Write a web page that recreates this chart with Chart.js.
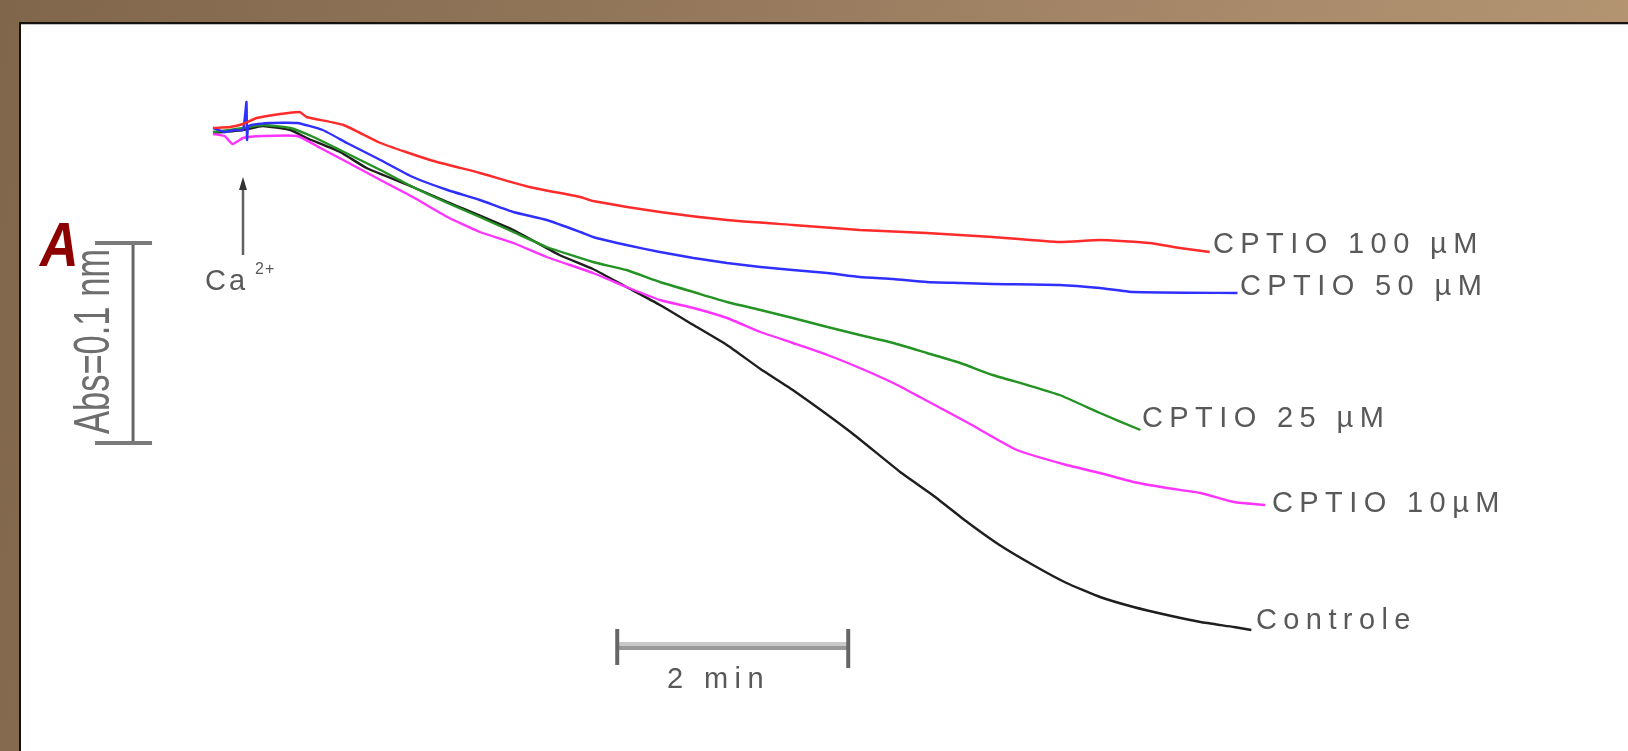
<!DOCTYPE html>
<html>
<head>
<meta charset="utf-8">
<script src="https://cdn.jsdelivr.net/npm/chart.js@4.4.1/dist/chart.umd.min.js"></script>
<style>
  html, body { margin: 0; padding: 0; width: 1628px; height: 751px; overflow: hidden; }
  body { background: linear-gradient(100deg, #80664b 0%, #92765a 35%, #a8896a 70%, #b79773 100%); position: relative; }
  #panel { position: absolute; left: 19px; top: 22px; width: 1607px; height: 727px; background: #fff;
           border-left: 2px solid #151210; border-top: 2px solid #151210; box-shadow: inset 0 1px 0 #c4c0bb; }
  #chart { position: absolute; left: 0; top: 0; }
</style>
</head>
<body>
<div id="panel"></div>
<canvas id="chart" width="1628" height="751"></canvas>
<script>
// Time in minutes after Ca2+ addition, absorbance change (relative to baseline)
const timeRed = [-0.26,-0.11,0.00,0.12,0.32,0.49,0.55,0.87,1.19,1.62,2.05,2.48,2.92,3.03,3.61,4.19,4.76,5.34,5.92,6.49,7.07,7.42,7.85,8.11,8.37];
const absRed  = [0.001,0.0015,0.003,0.006,0.008,0.009,0.0065,0.0025,-0.0065,-0.015,-0.0215,-0.0285,-0.0335,-0.0355,-0.041,-0.045,-0.0475,-0.050,-0.0515,-0.0535,-0.056,-0.055,-0.0565,-0.059,-0.061];

const timeBlue = [-0.26,-0.16,-0.07,0.00,0.03,0.035,0.05,0.23,0.47,0.69,0.90,1.19,1.47,1.77,2.05,2.34,2.63,2.92,3.03,3.32,3.61,3.90,4.19,4.48,4.76,5.06,5.34,5.63,5.92,6.21,6.49,7.07,7.42,7.71,8.61];
const absBlue  = [0.001,-0.001,0,0,0.014,-0.005,0.002,0.0035,0.0035,0,-0.0065,-0.015,-0.0235,-0.030,-0.035,-0.041,-0.045,-0.051,-0.0535,-0.0575,-0.061,-0.064,-0.0665,-0.0685,-0.070,-0.0715,-0.0735,-0.0745,-0.076,-0.0765,-0.077,-0.0775,-0.079,-0.081,-0.0815];

const timeGreen = [-0.26,-0.11,0.00,0.17,0.41,0.61,0.84,1.19,1.47,1.77,2.05,2.34,2.63,3.03,3.32,3.61,3.90,4.19,4.48,4.76,5.06,5.34,5.63,5.92,6.21,6.49,6.79,7.07,7.42,7.77];
const absGreen  = [-0.001,0,0.001,0.0025,0.001,-0.0035,-0.010,-0.020,-0.0285,-0.0365,-0.0435,-0.051,-0.0585,-0.066,-0.070,-0.076,-0.081,-0.086,-0.090,-0.094,-0.0985,-0.1025,-0.1065,-0.1115,-0.1165,-0.1225,-0.1275,-0.1325,-0.1415,-0.150];

const timeMagenta = [-0.26,-0.16,-0.09,0.00,0.17,0.47,0.67,0.90,1.19,1.47,1.77,2.05,2.34,2.63,3.03,3.32,3.61,3.90,4.19,4.48,4.76,5.06,5.34,5.63,5.86,6.28,6.70,7.13,7.42,7.71,8.00,8.29,8.58,8.85];
const absMagenta  = [-0.002,-0.003,-0.007,-0.004,-0.003,-0.003,-0.009,-0.016,-0.025,-0.0335,-0.0435,-0.051,-0.0565,-0.0635,-0.0715,-0.0785,-0.085,-0.089,-0.094,-0.101,-0.1065,-0.1125,-0.119,-0.1265,-0.1335,-0.1465,-0.160,-0.1675,-0.1715,-0.176,-0.179,-0.1815,-0.186,-0.1875];

const timeControl = [-0.26,0.00,0.17,0.41,0.55,0.84,1.07,1.47,1.77,2.34,2.74,3.03,3.32,3.61,3.90,4.19,4.48,4.76,5.26,5.69,5.97,6.27,6.55,6.84,7.13,7.42,7.71,8.00,8.29,8.58,8.73];
const absControl  = [-0.0015,0,0.002,0,-0.004,-0.011,-0.019,-0.0285,-0.036,-0.050,-0.0625,-0.0695,-0.0785,-0.0875,-0.0975,-0.1075,-0.1195,-0.130,-0.151,-0.171,-0.1825,-0.196,-0.2075,-0.2175,-0.2265,-0.2335,-0.2385,-0.2425,-0.246,-0.2485,-0.250];

const seriesNames = ["CPTIO 100 µM", "CPTIO 50 µM", "CPTIO 25 µM", "CPTIO 10µM", "Controle"];
const timeBarMin = [3.24, 5.24];       // 2 min scale bar
const absBarVal = [-0.0565, -0.1565];  // 0.1 absorbance scale bar
const absBarTime = -0.952;
const timeBarAbs = -0.258;
const arrowAbs = [-0.0235, -0.0625];

const zip = (t, a) => t.map((v, i) => ({ x: v, y: a[i] }));
const colors = ["#ff2a2a", "#2f2fff", "#249324", "#ff33ff", "#1e1e1e"];
const dataSets = [zip(timeRed, absRed), zip(timeBlue, absBlue), zip(timeGreen, absGreen), zip(timeMagenta, absMagenta), zip(timeControl, absControl)];

// label placement (pixels)
const labelPos = [[1213, 245], [1240, 287], [1142, 419], [1272, 504], [1256, 621]];

const overlay = {
  id: 'overlay',
  afterDatasetsDraw(chart) {
    const ctx = chart.ctx, xs = chart.scales.x, ys = chart.scales.y;
    ctx.save();
    ctx.fillStyle = '#595959';
    ctx.font = '29px "Liberation Sans", Arial, sans-serif';
    ctx.textBaseline = 'middle';
    ctx.textAlign = 'left';
    ctx.letterSpacing = '6.4px';
    seriesNames.forEach((n, i) => ctx.fillText(n, labelPos[i][0], labelPos[i][1]));
    // 2 min bar
    const bx0 = xs.getPixelForValue(timeBarMin[0]), bx1 = xs.getPixelForValue(timeBarMin[1]);
    const by = ys.getPixelForValue(timeBarAbs);
    ctx.strokeStyle = '#c9c9c9'; ctx.lineWidth = 4;
    ctx.beginPath(); ctx.moveTo(bx0, by - 2); ctx.lineTo(bx1, by - 2); ctx.stroke();
    ctx.strokeStyle = '#999'; ctx.lineWidth = 4;
    ctx.beginPath(); ctx.moveTo(bx0, by + 2); ctx.lineTo(bx1, by + 2); ctx.stroke();
    ctx.strokeStyle = '#666'; ctx.lineWidth = 4;
    ctx.beginPath(); ctx.moveTo(bx0, by - 17); ctx.lineTo(bx0, by + 19); ctx.stroke();
    ctx.beginPath(); ctx.moveTo(bx1, by - 17); ctx.lineTo(bx1, by + 22); ctx.stroke();
    ctx.fillStyle = '#595959';
    ctx.fillText('2 min', 667, by + 34);
    // Abs bar
    const ax = xs.getPixelForValue(absBarTime);
    const ay0 = ys.getPixelForValue(absBarVal[0]), ay1 = ys.getPixelForValue(absBarVal[1]);
    ctx.strokeStyle = '#666'; ctx.lineWidth = 3;
    ctx.beginPath(); ctx.moveTo(ax, ay0); ctx.lineTo(ax, ay1); ctx.stroke();
    ctx.strokeStyle = '#7a7a7a'; ctx.lineWidth = 4;
    ctx.beginPath(); ctx.moveTo(ax - 38, ay0); ctx.lineTo(ax + 19, ay0); ctx.stroke();
    ctx.beginPath(); ctx.moveTo(ax - 38, ay1); ctx.lineTo(ax + 19, ay1); ctx.stroke();
    // Abs label rotated
    ctx.save();
    ctx.translate(109, 434);
    ctx.rotate(-Math.PI / 2);
    ctx.scale(0.69, 1);
    ctx.letterSpacing = '0px';
    ctx.textBaseline = 'alphabetic';
    ctx.font = '50px "Liberation Sans", Arial, sans-serif';
    ctx.fillStyle = '#6e6e6e';
    ctx.fillText('Abs=0.1 nm', 0, 0);
    ctx.restore();
    // Ca2+ arrow
    const cx = xs.getPixelForValue(0);
    const cy0 = ys.getPixelForValue(arrowAbs[0]), cy1 = ys.getPixelForValue(arrowAbs[1]);
    ctx.strokeStyle = '#606060'; ctx.lineWidth = 2.5;
    ctx.beginPath(); ctx.moveTo(cx, cy0 + 8); ctx.lineTo(cx, cy1); ctx.stroke();
    ctx.fillStyle = '#333';
    ctx.beginPath(); ctx.moveTo(cx, cy0); ctx.lineTo(cx - 4, cy0 + 13); ctx.lineTo(cx + 4, cy0 + 13); ctx.closePath(); ctx.fill();
    ctx.fillStyle = '#595959';
    ctx.font = '29px "Liberation Sans", Arial, sans-serif';
    ctx.letterSpacing = '3px';
    ctx.textBaseline = 'middle';
    ctx.fillText('Ca', 205, 282);
    ctx.font = '16px "Liberation Sans", Arial, sans-serif';
    ctx.letterSpacing = '1px';
    ctx.fillText('2+', 255, 270);
    // red A
    ctx.save();
    ctx.translate(40, 266);
    ctx.scale(0.85, 1);
    ctx.letterSpacing = '0px';
    ctx.textBaseline = 'alphabetic';
    ctx.fillStyle = '#8c0000';
    ctx.font = 'italic bold 63px "Liberation Sans", Arial, sans-serif';
    ctx.fillText('A', 0, 0);
    ctx.restore();
    ctx.restore();
  }
};

new Chart(document.getElementById('chart'), {
  type: 'line',
  data: {
    datasets: dataSets.map((d, i) => ({
      label: seriesNames[i],
      data: d,
      borderColor: colors[i],
      borderWidth: 2.4,
      pointRadius: 0,
      tension: 0.15,
      fill: false
    }))
  },
  options: {
    responsive: false,
    animation: false,
    devicePixelRatio: 1,
    layout: { padding: 0 },
    plugins: { legend: { display: false }, tooltip: { enabled: false } },
    scales: {
      x: { type: 'linear', min: -2.1039, max: 11.9913, display: false },
      y: { type: 'linear', min: -0.3105, max: 0.065, display: false }
    }
  },
  plugins: [overlay]
});
</script>
</body>
</html>
